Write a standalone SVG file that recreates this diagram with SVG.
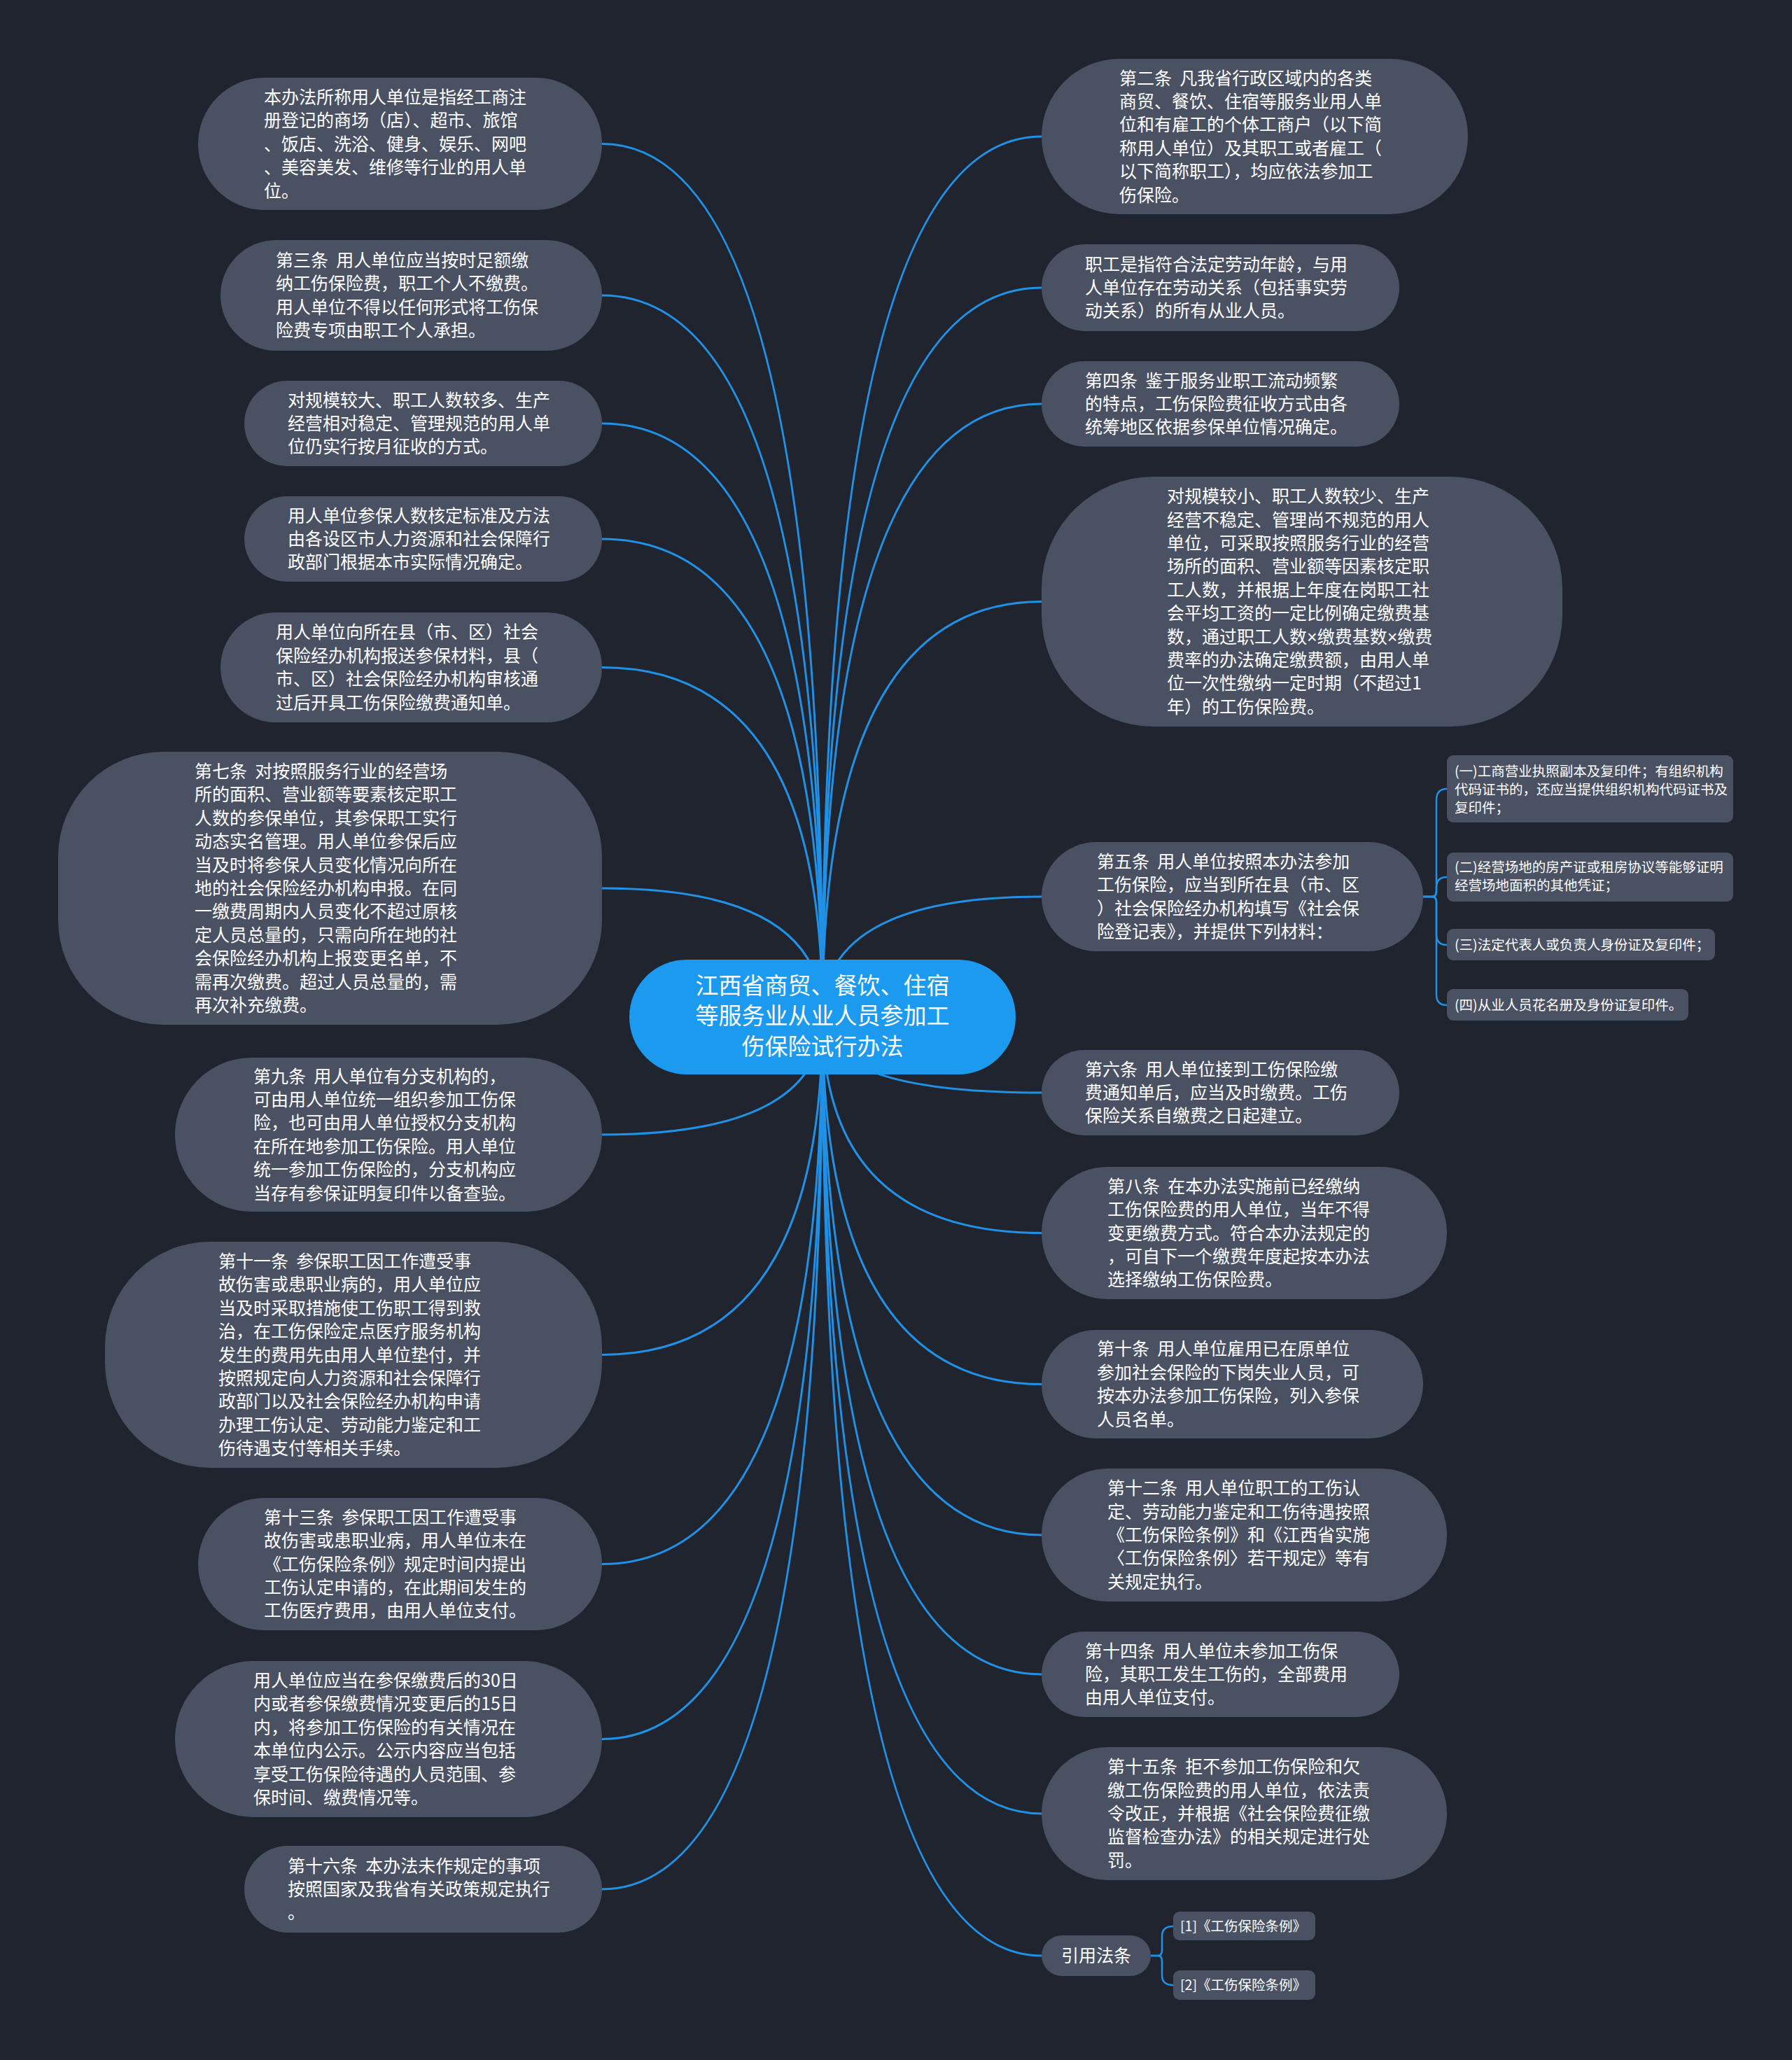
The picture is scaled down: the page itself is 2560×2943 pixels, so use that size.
<svg xmlns="http://www.w3.org/2000/svg" width="2560" height="2943" viewBox="0 0 2560 2943">
<style>
.bg{fill:#20242f}
.n{fill:#4a5162}
.s{fill:#4a5162}
.c{fill:#1b9af0}
.ln{fill:none;stroke:#2191e6;stroke-width:3}
.lb{fill:none;stroke:#2191e6;stroke-width:2.5}
text{font-family:"Noto Sans CJK SC","Noto Sans",sans-serif;fill:#ffffff;white-space:pre}
.t{font-size:25px}
.st{font-size:19.5px}
.ct{font-size:33px;text-anchor:middle}
.x{font-family:"Liberation Sans",sans-serif}
</style>
<rect class="bg" x="0" y="0" width="2560" height="2943"/>
<g id="connectors">
<path class="ln" d="M1175,1452 Q1175,205.5 860,205.5"/>
<path class="ln" d="M1175,1452 Q1175,422 860,422"/>
<path class="ln" d="M1175,1452 Q1175,605 860,605"/>
<path class="ln" d="M1175,1452 Q1175,770 860,770"/>
<path class="ln" d="M1175,1452 Q1175,953.5 860,953.5"/>
<path class="ln" d="M1175,1452 Q1175,1269 860,1269"/>
<path class="ln" d="M1175,1452 Q1175,1621 860,1621"/>
<path class="ln" d="M1175,1452 Q1175,1935.5 860,1935.5"/>
<path class="ln" d="M1175,1452 Q1175,2234.5 860,2234.5"/>
<path class="ln" d="M1175,1452 Q1175,2484.5 860,2484.5"/>
<path class="ln" d="M1175,1452 Q1175,2699 860,2699"/>
<path class="ln" d="M1175,1452 Q1175,195 1488,195"/>
<path class="ln" d="M1175,1452 Q1175,411 1488,411"/>
<path class="ln" d="M1175,1452 Q1175,577 1488,577"/>
<path class="ln" d="M1175,1452 Q1175,859.5 1488,859.5"/>
<path class="ln" d="M1175,1452 Q1175,1281 1488,1281"/>
<path class="ln" d="M1175,1452 Q1175,1561 1488,1561"/>
<path class="ln" d="M1175,1452 Q1175,1761.5 1488,1761.5"/>
<path class="ln" d="M1175,1452 Q1175,1977.5 1488,1977.5"/>
<path class="ln" d="M1175,1452 Q1175,2193 1488,2193"/>
<path class="ln" d="M1175,1452 Q1175,2392 1488,2392"/>
<path class="ln" d="M1175,1452 Q1175,2591 1488,2591"/>
<path class="ln" d="M1175,1452 Q1175,2794 1488,2794"/>
<path class="lb" d="M2033,1281 H2046 Q2052,1281 2052,1273 V1143 Q2052,1127 2067,1127"/>
<path class="lb" d="M2033,1281 H2046 Q2052,1281 2052,1273 V1268 Q2052,1253 2067,1253"/>
<path class="lb" d="M2033,1281 H2046 Q2052,1281 2052,1289 V1335 Q2052,1350 2067,1350"/>
<path class="lb" d="M2033,1281 H2046 Q2052,1281 2052,1289 V1421 Q2052,1436 2067,1436"/>
<path class="lb" d="M1644,2794 H1654 Q1660,2794 1660,2786 V2766 Q1660,2752 1676,2752"/>
<path class="lb" d="M1644,2794 H1654 Q1660,2794 1660,2802 V2822 Q1660,2836 1676,2836"/>
</g>
<g id="center">
<rect class="c" x="899" y="1371" width="552" height="164" rx="82"/>
<text class="ct"><tspan x="1175" y="1420">江西省商贸、餐饮、住宿</tspan><tspan x="1175" y="1463">等服务业从业人员参加工</tspan><tspan x="1175" y="1507">伤保险试行办法</tspan></text>
</g>
<g id="L1">
<rect class="n" x="283" y="111" width="577" height="189" rx="94.5"/>
<text class="t"><tspan x="377" y="148">本办法所称用人单位是指经工商注</tspan><tspan x="377" y="181.4">册登记的商场（店）、超市、旅馆</tspan><tspan x="377" y="214.8">、饭店、洗浴、健身、娱乐、网吧</tspan><tspan x="377" y="248.2">、美容美发、维修等行业的用人单</tspan><tspan x="377" y="281.6">位。</tspan></text>
</g>
<g id="L2">
<rect class="n" x="315" y="343" width="545" height="158" rx="79"/>
<text class="t"><tspan x="394" y="381">第三条  用人单位应当按时足额缴</tspan><tspan x="394" y="414.4">纳工伤保险费，职工个人不缴费。</tspan><tspan x="394" y="447.8">用人单位不得以任何形式将工伤保</tspan><tspan x="394" y="481.2">险费专项由职工个人承担。</tspan></text>
</g>
<g id="L3">
<rect class="n" x="349" y="544" width="511" height="122" rx="61"/>
<text class="t"><tspan x="411" y="580.6">对规模较大、职工人数较多、生产</tspan><tspan x="411" y="614">经营相对稳定、管理规范的用人单</tspan><tspan x="411" y="647.4">位仍实行按月征收的方式。</tspan></text>
</g>
<g id="L4">
<rect class="n" x="349" y="709" width="511" height="122" rx="61"/>
<text class="t"><tspan x="411" y="745.6">用人单位参保人数核定标准及方法</tspan><tspan x="411" y="779">由各设区市人力资源和社会保障行</tspan><tspan x="411" y="812.4">政部门根据本市实际情况确定。</tspan></text>
</g>
<g id="L5">
<rect class="n" x="315" y="875" width="545" height="157" rx="78.5"/>
<text class="t"><tspan x="394" y="912.4">用人单位向所在县（市、区）社会</tspan><tspan x="394" y="945.8">保险经办机构报送参保材料，县（</tspan><tspan x="394" y="979.2">市、区）社会保险经办机构审核通</tspan><tspan x="394" y="1012.6">过后开具工伤保险缴费通知单。</tspan></text>
</g>
<g id="L6">
<rect class="n" x="83" y="1074" width="777" height="390" rx="150"/>
<text class="t"><tspan x="278" y="1111">第七条  对按照服务行业的经营场</tspan><tspan x="278" y="1144.4">所的面积、营业额等要素核定职工</tspan><tspan x="278" y="1177.8">人数的参保单位，其参保职工实行</tspan><tspan x="278" y="1211.2">动态实名管理。用人单位参保后应</tspan><tspan x="278" y="1244.6">当及时将参保人员变化情况向所在</tspan><tspan x="278" y="1278">地的社会保险经办机构申报。在同</tspan><tspan x="278" y="1311.4">一缴费周期内人员变化不超过原核</tspan><tspan x="278" y="1344.8">定人员总量的，只需向所在地的社</tspan><tspan x="278" y="1378.2">会保险经办机构上报变更名单，不</tspan><tspan x="278" y="1411.6">需再次缴费。超过人员总量的，需</tspan><tspan x="278" y="1445">再次补充缴费。</tspan></text>
</g>
<g id="L7">
<rect class="n" x="250" y="1511" width="610" height="220" rx="110"/>
<text class="t"><tspan x="362" y="1546.5">第九条  用人单位有分支机构的，</tspan><tspan x="362" y="1579.9">可由用人单位统一组织参加工伤保</tspan><tspan x="362" y="1613.3">险，也可由用人单位授权分支机构</tspan><tspan x="362" y="1646.7">在所在地参加工伤保险。用人单位</tspan><tspan x="362" y="1680.1">统一参加工伤保险的，分支机构应</tspan><tspan x="362" y="1713.5">当存有参保证明复印件以备查验。</tspan></text>
</g>
<g id="L8">
<rect class="n" x="150" y="1774" width="710" height="323" rx="150"/>
<text class="t"><tspan x="312" y="1810.9">第十一条  参保职工因工作遭受事</tspan><tspan x="312" y="1844.3">故伤害或患职业病的，用人单位应</tspan><tspan x="312" y="1877.7">当及时采取措施使工伤职工得到救</tspan><tspan x="312" y="1911.1">治，在工伤保险定点医疗服务机构</tspan><tspan x="312" y="1944.5">发生的费用先由用人单位垫付，并</tspan><tspan x="312" y="1977.9">按照规定向人力资源和社会保障行</tspan><tspan x="312" y="2011.3">政部门以及社会保险经办机构申请</tspan><tspan x="312" y="2044.7">办理工伤认定、劳动能力鉴定和工</tspan><tspan x="312" y="2078.1">伤待遇支付等相关手续。</tspan></text>
</g>
<g id="L9">
<rect class="n" x="283" y="2140" width="577" height="189" rx="94.5"/>
<text class="t"><tspan x="377" y="2176.7">第十三条  参保职工因工作遭受事</tspan><tspan x="377" y="2210.1">故伤害或患职业病，用人单位未在</tspan><tspan x="377" y="2243.5">《工伤保险条例》规定时间内提出</tspan><tspan x="377" y="2276.9">工伤认定申请的，在此期间发生的</tspan><tspan x="377" y="2310.3">工伤医疗费用，由用人单位支付。</tspan></text>
</g>
<g id="L10">
<rect class="n" x="250" y="2373" width="610" height="223" rx="111.5"/>
<text class="t"><tspan x="362" y="2410">用人单位应当在参保缴费后的30日</tspan><tspan x="362" y="2443.4">内或者参保缴费情况变更后的15日</tspan><tspan x="362" y="2476.8">内，将参加工伤保险的有关情况在</tspan><tspan x="362" y="2510.2">本单位内公示。公示内容应当包括</tspan><tspan x="362" y="2543.6">享受工伤保险待遇的人员范围、参</tspan><tspan x="362" y="2577">保时间、缴费情况等。</tspan></text>
</g>
<g id="L11">
<rect class="n" x="349" y="2637" width="511" height="124" rx="62"/>
<text class="t"><tspan x="411" y="2674.6">第十六条  本办法未作规定的事项</tspan><tspan x="411" y="2708">按照国家及我省有关政策规定执行</tspan><tspan x="411" y="2741.4">。</tspan></text>
</g>
<g id="R1">
<rect class="n" x="1488" y="84" width="609" height="222" rx="111"/>
<text class="t"><tspan x="1599" y="120.5">第二条  凡我省行政区域内的各类</tspan><tspan x="1599" y="153.9">商贸、餐饮、住宿等服务业用人单</tspan><tspan x="1599" y="187.3">位和有雇工的个体工商户（以下简</tspan><tspan x="1599" y="220.7">称用人单位）及其职工或者雇工（</tspan><tspan x="1599" y="254.1">以下简称职工），均应依法参加工</tspan><tspan x="1599" y="287.5">伤保险。</tspan></text>
</g>
<g id="R2">
<rect class="n" x="1488" y="349" width="511" height="124" rx="62"/>
<text class="t"><tspan x="1550" y="386.6">职工是指符合法定劳动年龄，与用</tspan><tspan x="1550" y="420">人单位存在劳动关系（包括事实劳</tspan><tspan x="1550" y="453.4">动关系）的所有从业人员。</tspan></text>
</g>
<g id="R3">
<rect class="n" x="1488" y="516" width="511" height="122" rx="61"/>
<text class="t"><tspan x="1550" y="552.6">第四条  鉴于服务业职工流动频繁</tspan><tspan x="1550" y="586">的特点，工伤保险费征收方式由各</tspan><tspan x="1550" y="619.4">统筹地区依据参保单位情况确定。</tspan></text>
</g>
<g id="R4">
<rect class="n" x="1488" y="681" width="744" height="357" rx="160"/>
<text class="t"><tspan x="1667" y="718.2">对规模较小、职工人数较少、生产</tspan><tspan x="1667" y="751.6">经营不稳定、管理尚不规范的用人</tspan><tspan x="1667" y="785">单位，可采取按照服务行业的经营</tspan><tspan x="1667" y="818.4">场所的面积、营业额等因素核定职</tspan><tspan x="1667" y="851.8">工人数，并根据上年度在岗职工社</tspan><tspan x="1667" y="885.2">会平均工资的一定比例确定缴费基</tspan><tspan x="1667" y="918.6">数，通过职工人数<tspan class="x">×</tspan>缴费基数<tspan class="x">×</tspan>缴费</tspan><tspan x="1667" y="952">费率的办法确定缴费额，由用人单</tspan><tspan x="1667" y="985.4">位一次性缴纳一定时期（不超过1</tspan><tspan x="1667" y="1018.8">年）的工伤保险费。</tspan></text>
</g>
<g id="R5">
<rect class="n" x="1488" y="1203" width="545" height="156" rx="78"/>
<text class="t"><tspan x="1567" y="1239.9">第五条  用人单位按照本办法参加</tspan><tspan x="1567" y="1273.3">工伤保险，应当到所在县（市、区</tspan><tspan x="1567" y="1306.7">）社会保险经办机构填写《社会保</tspan><tspan x="1567" y="1340.1">险登记表》，并提供下列材料：</tspan></text>
</g>
<g id="S1">
<rect class="s" x="2067" y="1079" width="409" height="96" rx="9"/>
<text class="st"><tspan x="2078" y="1109">(一)工商营业执照副本及复印件；有组织机构</tspan><tspan x="2078" y="1135">代码证书的，还应当提供组织机构代码证书及</tspan><tspan x="2078" y="1161">复印件；</tspan></text>
</g>
<g id="S2">
<rect class="s" x="2067" y="1218" width="409" height="70" rx="9"/>
<text class="st"><tspan x="2078" y="1246">(二)经营场地的房产证或租房协议等能够证明</tspan><tspan x="2078" y="1272">经营场地面积的其他凭证；</tspan></text>
</g>
<g id="S3">
<rect class="s" x="2067" y="1327" width="383" height="45" rx="9"/>
<text class="st"><tspan x="2078" y="1357">(三)法定代表人或负责人身份证及复印件；</tspan></text>
</g>
<g id="S4">
<rect class="s" x="2067" y="1413" width="345" height="45" rx="9"/>
<text class="st"><tspan x="2078" y="1443">(四)从业人员花名册及身份证复印件。</tspan></text>
</g>
<g id="R6">
<rect class="n" x="1488" y="1500" width="511" height="122" rx="61"/>
<text class="t"><tspan x="1550" y="1536.6">第六条  用人单位接到工伤保险缴</tspan><tspan x="1550" y="1570">费通知单后，应当及时缴费。工伤</tspan><tspan x="1550" y="1603.4">保险关系自缴费之日起建立。</tspan></text>
</g>
<g id="R7">
<rect class="n" x="1488" y="1667" width="579" height="189" rx="94.5"/>
<text class="t"><tspan x="1582" y="1703.7">第八条  在本办法实施前已经缴纳</tspan><tspan x="1582" y="1737.1">工伤保险费的用人单位，当年不得</tspan><tspan x="1582" y="1770.5">变更缴费方式。符合本办法规定的</tspan><tspan x="1582" y="1803.9">，可自下一个缴费年度起按本办法</tspan><tspan x="1582" y="1837.3">选择缴纳工伤保险费。</tspan></text>
</g>
<g id="R8">
<rect class="n" x="1488" y="1900" width="545" height="155" rx="77.5"/>
<text class="t"><tspan x="1567" y="1936.4">第十条  用人单位雇用已在原单位</tspan><tspan x="1567" y="1969.8">参加社会保险的下岗失业人员，可</tspan><tspan x="1567" y="2003.2">按本办法参加工伤保险，列入参保</tspan><tspan x="1567" y="2036.6">人员名单。</tspan></text>
</g>
<g id="R9">
<rect class="n" x="1488" y="2098" width="579" height="190" rx="95"/>
<text class="t"><tspan x="1582" y="2135.2">第十二条  用人单位职工的工伤认</tspan><tspan x="1582" y="2168.6">定、劳动能力鉴定和工伤待遇按照</tspan><tspan x="1582" y="2202">《工伤保险条例》和《江西省实施</tspan><tspan x="1582" y="2235.4">〈工伤保险条例〉若干规定》等有</tspan><tspan x="1582" y="2268.8">关规定执行。</tspan></text>
</g>
<g id="R10">
<rect class="n" x="1488" y="2331" width="511" height="122" rx="61"/>
<text class="t"><tspan x="1550" y="2367.6">第十四条  用人单位未参加工伤保</tspan><tspan x="1550" y="2401">险，其职工发生工伤的，全部费用</tspan><tspan x="1550" y="2434.4">由用人单位支付。</tspan></text>
</g>
<g id="R11">
<rect class="n" x="1488" y="2496" width="579" height="190" rx="95"/>
<text class="t"><tspan x="1582" y="2533.2">第十五条  拒不参加工伤保险和欠</tspan><tspan x="1582" y="2566.6">缴工伤保险费的用人单位，依法责</tspan><tspan x="1582" y="2600">令改正，并根据《社会保险费征缴</tspan><tspan x="1582" y="2633.4">监督检查办法》的相关规定进行处</tspan><tspan x="1582" y="2666.8">罚。</tspan></text>
</g>
<g id="R12">
<rect class="n" x="1488" y="2765" width="156" height="58" rx="29"/>
<text class="t" text-anchor="middle"><tspan x="1566" y="2803">引用法条</tspan></text>
</g>
<g id="T1">
<rect class="s" x="1676" y="2731" width="203" height="41" rx="9"/>
<text class="st"><tspan x="1686" y="2759">[1]《工伤保险条例》</tspan></text>
</g>
<g id="T2">
<rect class="s" x="1676" y="2815" width="203" height="42" rx="9"/>
<text class="st"><tspan x="1686" y="2843">[2]《工伤保险条例》</tspan></text>
</g>
</svg>
